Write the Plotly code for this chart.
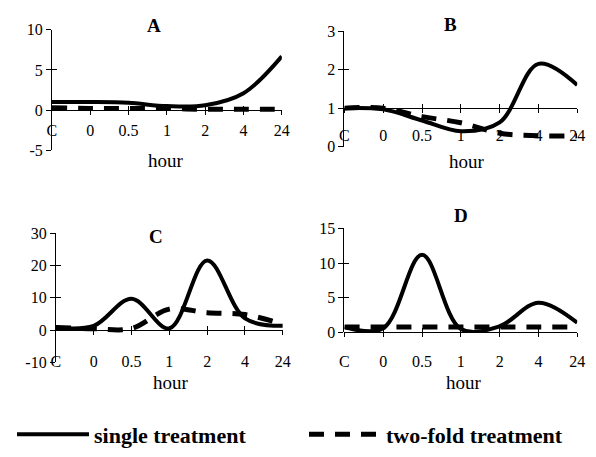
import plotly.graph_objects as go

W, H = 596, 457
categories = ["C", "0", "0.5", "1", "2", "4", "24"]

single_A = [1.0, 1.0, 0.9, 0.5, 0.6, 2.1, 6.7]
twofold_A = [0.3, 0.2, 0.2, 0.2, 0.1, 0.1, 0.1]
single_B = [1.0, 0.97, 0.68, 0.4, 0.63, 2.15, 1.6]
twofold_B = [1.0, 1.0, 0.78, 0.62, 0.35, 0.28, 0.28]
single_C = [0.8, 1.3, 9.7, 0.5, 21.6, 3.6, 1.3]
twofold_C = [0.8, 0.4, 0.5, 6.5, 5.4, 4.8, 1.8]
single_D = [0.8, 0.6, 11.2, 0.5, 0.9, 4.3, 1.4]
twofold_D = [0.8, 0.8, 0.8, 0.8, 0.8, 0.8, 0.8]

yticks_A = [-5, 0, 5, 10]
yticks_B = [0, 1, 2, 3]
yticks_C = [-10, 0, 10, 20, 30]
yticks_D = [0, 5, 10, 15]

panel_titles = ["A", "B", "C", "D"]
series_names = ["single treatment", "two-fold treatment"]
x_title = "hour"

FONT = "'Liberation Serif', 'Times New Roman', Times, serif"

def py(px):
    return 1 - px / H

def pxx(px):
    return px / W

panels = [
    dict(single=single_A, two=twofold_A, yt=yticks_A, cross=0,
         l=48, r=283, t=22.7, b=147.7, lab=115, title=(152, 18), hour=(165, 158)),
    dict(single=single_B, two=twofold_B, yt=yticks_B, cross=1,
         l=347, r=585, t=24, b=144, lab=121, title=(455, 17), hour=(472, 159)),
    dict(single=single_C, two=twofold_C, yt=yticks_C, cross=0,
         l=52, r=284, t=234, b=368, lab=355, title=(154, 237), hour=(170, 389)),
    dict(single=single_D, two=twofold_D, yt=yticks_D, cross=0,
         l=347, r=585, t=229, b=337, lab=355, title=(466, 215), hour=(469, 389)),
]

fig = go.Figure()
layout = {}
annotations = []
NP = len(panels)

for i, p in enumerate(panels):
    n = i + 1
    xa = "x" if n == 1 else f"x{n}"
    ya = "y" if n == 1 else f"y{n}"
    xl = f"x{n + NP}"        # tick-label axis
    xt = f"x{n + 2 * NP}"    # inside tick marks on horizontal axis
    yt = f"y{n + NP}"        # inside tick marks on vertical axis
    ymin, ymax = min(p["yt"]), max(p["yt"])
    ybot, ytop = py(p["b"]), py(p["t"])
    cross_pos = ybot + (p["cross"] - ymin) / (ymax - ymin) * (ytop - ybot)
    xrange = [0, len(categories) - 1]

    fig.add_trace(go.Scatter(
        x=categories, y=p["single"], xaxis=xa, yaxis=ya, mode="lines",
        line=dict(color="black", width=4, shape="spline", smoothing=1.0),
        name=series_names[0], showlegend=(n == 1), legendrank=1, hoverinfo="skip"))
    fig.add_trace(go.Scatter(
        x=categories, y=p["two"], xaxis=xa, yaxis=ya, mode="lines",
        line=dict(color="black", width=5, shape="spline", smoothing=1.0, dash="15px,11px"),
        name=series_names[1], showlegend=(n == 1), legendrank=2, hoverinfo="skip"))
    # empty helper traces so the overlay axes are drawn
    fig.add_trace(go.Scatter(
        x=categories, y=[None] * len(categories), xaxis=xl, yaxis=yt,
        mode="lines", showlegend=False, hoverinfo="skip"))
    fig.add_trace(go.Scatter(
        x=categories, y=[None] * len(categories), xaxis=xt, yaxis=ya,
        mode="lines", showlegend=False, hoverinfo="skip"))

    common_x = dict(type="category", categoryarray=categories, range=xrange,
                    showgrid=False, zeroline=False, fixedrange=True)
    layout["xaxis" if n == 1 else f"xaxis{n}"] = dict(
        domain=[pxx(p["l"]), pxx(p["r"])], anchor="free", position=cross_pos,
        showline=True, linecolor="black", linewidth=1, ticks="outside",
        ticklen=4, tickcolor="black", showticklabels=False, **common_x)
    layout[f"xaxis{n + 2 * NP}"] = dict(
        overlaying=xa, anchor="free", position=cross_pos, showline=False,
        ticks="inside", ticklen=4, tickcolor="black", showticklabels=False,
        **common_x)
    layout[f"xaxis{n + NP}"] = dict(
        overlaying=xa, anchor="free", position=py(p["lab"]), showline=False,
        ticks="", showticklabels=True,
        tickfont=dict(family=FONT, size=16, color="black"), **common_x)
    common_y = dict(range=[ymin, ymax], tickvals=p["yt"], showgrid=False,
                    zeroline=False, fixedrange=True, anchor=xa)
    layout["yaxis" if n == 1 else f"yaxis{n}"] = dict(
        domain=[ybot, ytop], ticktext=[str(v) for v in p["yt"]],
        showline=True, linecolor="black", linewidth=1, ticks="outside",
        ticklen=5, tickcolor="black",
        tickfont=dict(family=FONT, size=16, color="black"), **common_y)
    layout[f"yaxis{n + NP}"] = dict(
        overlaying=ya, showline=False, ticks="inside", ticklen=5,
        tickcolor="black", showticklabels=False, **common_y)

    annotations.append(dict(
        text=f"<b>{panel_titles[i]}</b>", x=pxx(p["title"][0]), y=py(p["title"][1]),
        xref="paper", yref="paper", showarrow=False, xanchor="center", yanchor="middle",
        font=dict(family=FONT, size=19, color="black")))
    annotations.append(dict(
        text=x_title, x=pxx(p["hour"][0]), y=py(p["hour"][1]),
        xref="paper", yref="paper", showarrow=False, xanchor="center", yanchor="middle",
        font=dict(family=FONT, size=19, color="black")))

fig.update_layout(
    width=W, height=H, margin=dict(l=0, r=0, t=0, b=0),
    paper_bgcolor="white", plot_bgcolor="white",
    annotations=annotations,
    legend=dict(orientation="h", x=pxx(26), xanchor="left", y=py(443), yanchor="middle",
                font=dict(family=FONT, size=22, color="black", weight="bold"),
                itemwidth=72, entrywidth=205, traceorder="normal"),
    **layout,
)

fig.write_html("out.html")
